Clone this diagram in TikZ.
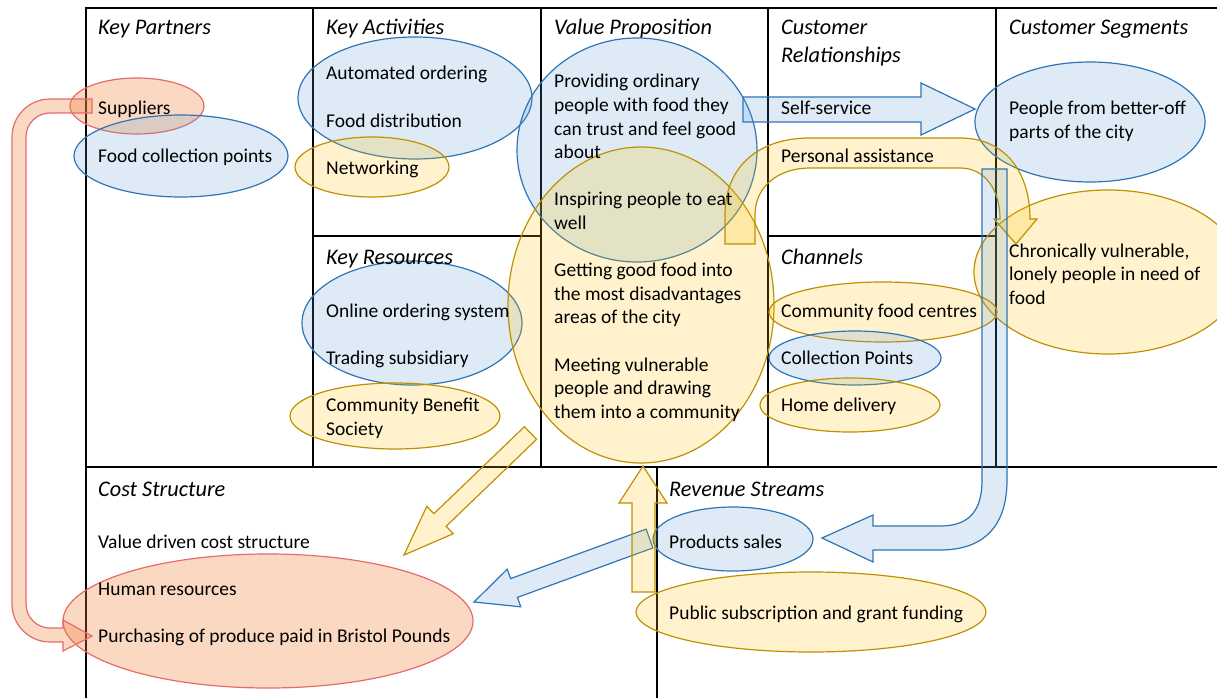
\documentclass[tikz,border=0pt]{standalone}
\usepackage{fontspec}
\setmainfont{Carlito}
\definecolor{acblue}{HTML}{5B9BD5}
\definecolor{lnblue}{HTML}{2E75B6}
\definecolor{acgold}{HTML}{FFC000}
\definecolor{lngold}{HTML}{BF9000}
\definecolor{acred}{HTML}{ED7D31}
\definecolor{lnred}{HTML}{E46C6C}
\newcommand{\celltext}[1]{\parbox[t]{420pt}{#1}}
\begin{document}
\begin{tikzpicture}[x=1pt,y=-1pt,
		grid/.style={black,line width=1.3pt},
		bluebub/.style={draw=lnblue,fill=acblue,fill opacity=0.2,line width=1.2pt},
		goldbub/.style={draw=lngold,fill=acgold,fill opacity=0.2,line width=1.2pt},
		redbub/.style={draw=lnred,fill=acred,fill opacity=0.3,line width=1.2pt},
		head/.style={anchor=base west,inner sep=0pt,font=\fontsize{22.3}{27.5}\selectfont\itshape},
		txt/.style={anchor=base west,inner sep=0pt,font=\fontsize{19.5}{23.6}\selectfont}]
		\useasboundingbox (0,0) rectangle (1217,698);
		\clip (0,0) rectangle (1217,698);
		% canvas grid
		\draw [grid] (86,698) -- (86,8) -- (1217,8);
		\draw [grid] (86,467) -- (1217,467);
		\foreach \x in {313,541,768,996}
			\draw [grid] (\x,8) -- (\x,467);
		\draw [grid] (657,467) -- (657,698);
		\draw [grid] (313,236) -- (541,236);
		\draw [grid] (768,236) -- (996,236);
		% bubbles
		\draw [redbub] (137,106) ellipse [x radius=67,y radius=28];
		\draw [bluebub] (181,156) ellipse [x radius=107,y radius=41];
		\draw [bluebub] (415,98) ellipse [x radius=117,y radius=61];
		\draw [goldbub] (372,167) ellipse [x radius=77,y radius=30];
		\draw [bluebub] (412,323) ellipse [x radius=110,y radius=62];
		\draw [goldbub] (395,416) ellipse [x radius=105,y radius=33];
		\draw [bluebub] (637,150) ellipse [x radius=120,y radius=112];
		\draw [goldbub] (641,305) ellipse [x radius=133,y radius=158];
		\draw [bluebub] (1090,122) ellipse [x radius=115,y radius=60];
		\draw [goldbub] (1108,272) ellipse [x radius=134,y radius=82];
		\draw [goldbub] (883,312) ellipse [x radius=114,y radius=30];
		\draw [bluebub] (855,358) ellipse [x radius=86,y radius=27];
		\draw [goldbub] (850,405) ellipse [x radius=90,y radius=27];
		\draw [bluebub] (733,539) ellipse [x radius=80,y radius=32];
		\draw [goldbub] (811,612) ellipse [x radius=175,y radius=40];
		\draw [redbub] (268,621) ellipse [x radius=205,y radius=67];
		% block arrows
		\draw [redbub] (92,99) -- (50,99) arc [start angle=270,end angle=180,radius=38] -- (12,604) arc [start angle=180,end angle=90,radius=38] -- (63,642) -- (63,651) -- (92,636) -- (63,620) -- (63,628) -- (50,628) arc [start angle=90,end angle=180,radius=24] -- (26,137) arc [start angle=180,end angle=270,radius=24] -- (92,113) -- cycle;
		\draw [bluebub] (743,97) -- (921,97) -- (921,83) -- (975,109) -- (921,135) -- (921,122) -- (743,122) -- cycle;
		\draw [goldbub] (725,244) -- (725,215) .. controls (725,165) and (760,138) .. (810,138) -- (960,138) .. controls (1005,138) and (1030,172) .. (1030,219) -- (1037,219) -- (1016,244) -- (994,219) -- (1000,219) .. controls (1000,190) and (985,168) .. (960,168) -- (810,168) .. controls (780,168) and (755,185) .. (755,215) -- (755,244) -- cycle;
		\draw [bluebub] (982,169) -- (1007,169) -- (1007,480) .. controls (1007,525) and (985,550) .. (940,550) -- (873,550) -- (873,562) -- (822,538) -- (873,515) -- (873,526) -- (940,526) .. controls (970,526) and (982,510) .. (982,480) -- cycle;
		\draw [goldbub] (524.4,426.7) -- (536.6,439.3) -- (446.1,526.3) -- (453.2,533.7) -- (404,555) -- (426.8,506.3) -- (433.9,513.7) -- cycle;
		\draw [bluebub] (646.1,529.1) -- (652.9,547.9) -- (517.4,597.4) -- (520.8,606.8) -- (474,602) -- (507.2,569.2) -- (510.6,578.6) -- cycle;
		\draw [goldbub] (632,592) -- (632,503) -- (619,503) -- (643,466) -- (667,503) -- (655,503) -- (655,592) -- cycle;
		% titles
		\node [head] (kp) at (98,35) {Key Partners};
		\node [head] (ka) at (326,35) {Key Activities};
		\node [head] (vp) at (554,35) {Value Proposition};
		\node [head] (cr) at (781,35) {\celltext{Customer\\Relationships}};
		\node [head] (cs) at (1009,35) {Customer Segments};
		\node [head] (kr) at (326,264) {Key Resources};
		\node [head] (ch) at (781,264) {Channels};
		\node [head] (cost) at (98,496) {Cost Structure};
		\node [head] (rev) at (669,496) {Revenue Streams};
		% cell texts
		\node [txt] (kptext) at (98,115) {\celltext{Suppliers\\[\baselineskip]Food collection points}};
		\node [txt] (katext) at (326,80) {\celltext{Automated ordering\\[\baselineskip]Food distribution\\[\baselineskip]Networking}};
		\node [txt] (krtext) at (326,317) {\celltext{Online ordering system\\[\baselineskip]Trading subsidiary\\[\baselineskip]Community Benefit\\Society}};
		\node [txt] (vptext) at (554,88) {\celltext{Providing ordinary\\people with food they\\can trust and feel good\\about\\[\baselineskip]Inspiring people to eat\\well\\[\baselineskip]Getting good food into\\the most disadvantages\\areas of the city\\[\baselineskip]Meeting vulnerable\\people and drawing\\them into a community}};
		\node [txt] (crtext) at (781,115) {\celltext{Self-service\\[\baselineskip]Personal assistance}};
		\node [txt] (cstop) at (1009,115) {\celltext{People from better-off\\parts of the city}};
		\node [txt] (csbot) at (1009,257) {\celltext{Chronically vulnerable,\\lonely people in need of\\food}};
		\node [txt] (chtext) at (781,317) {\celltext{Community food centres\\[\baselineskip]Collection Points\\[\baselineskip]Home delivery}};
		\node [txt] (costtext) at (98,548) {\celltext{Value driven cost structure\\[\baselineskip]Human resources\\[\baselineskip]Purchasing of produce paid in Bristol Pounds}};
		\node [txt] (revtop) at (669,548) {Products sales};
		\node [txt] (revbot) at (669,619) {Public subscription and grant funding};
	\end{tikzpicture}
\end{document}
